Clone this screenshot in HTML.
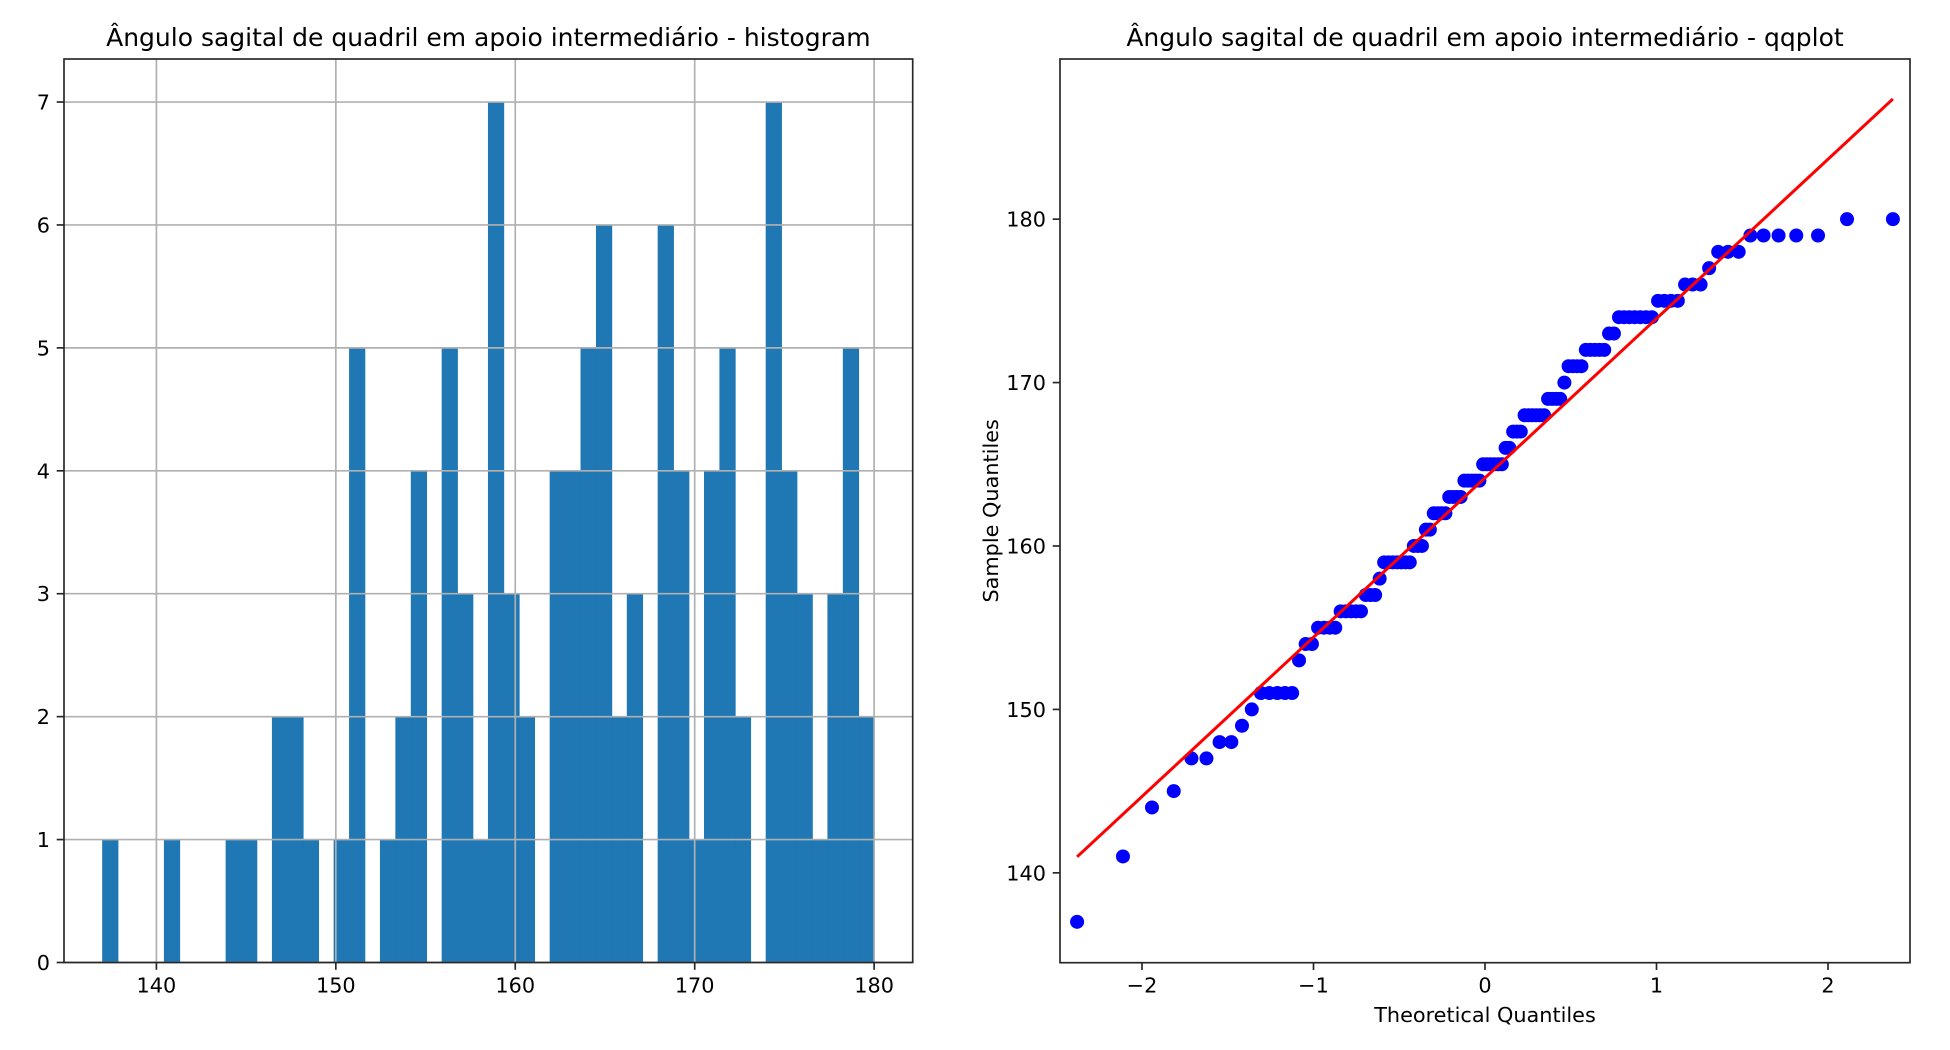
<!DOCTYPE html>
<html><head><meta charset="utf-8">
<style>
html,body{margin:0;padding:0;background:#fff;}
svg{display:block;font-family:"DejaVu Sans","Liberation Sans",sans-serif;}
</style></head>
<body>
<svg id="fig" width="1950" height="1050" viewBox="0 0 1950 1050" xmlns="http://www.w3.org/2000/svg">
<rect width="1950" height="1050" fill="#fff"/>
</svg>
<script>
// Sample values (unique) and their frequencies
const sampleValues = [137,141,144,145,147,148,149,150,151,153,154,155,156,157,158,159,160,161,162,163,164,165,166,167,168,169,170,171,172,173,174,175,176,177,178,179,180];
const sampleCounts = [1,1,1,1,2,2,1,1,5,1,2,4,5,3,1,7,3,2,4,4,5,6,2,3,6,4,1,4,5,2,7,4,3,1,3,5,2];
const histXTicks = [140,150,160,170,180];
const histYTicks = [0,1,2,3,4,5,6,7];
const qqXTicks = [-2,-1,0,1,2];
const qqYTicks = [140,150,160,170,180];
const numBins = 50;

const NS = "http://www.w3.org/2000/svg";
const svg = document.getElementById('fig');
function mk(tag, attrs, parent){
  const e = document.createElementNS(NS, tag);
  for (const k in attrs) e.setAttribute(k, attrs[k]);
  (parent||svg).appendChild(e);
  return e;
}

const data = [];
sampleValues.forEach((v,i)=>{ for(let k=0;k<sampleCounts[i];k++) data.push(v); });
data.sort((a,b)=>a-b);
const n = data.length;
const dmin = data[0], dmax = data[n-1];
const bw = (dmax-dmin)/numBins;
const binCounts = new Array(numBins).fill(0);
data.forEach(v=>{ let b=Math.floor((v-dmin)/bw); if(b>=numBins) b=numBins-1; binCounts[b]++; });

// ---------- Histogram ----------
const H = {l:64, r:912.7, t:59, b:962.5};
const hxMin = dmin-(dmax-dmin)*0.05, hxMax = dmax+(dmax-dmin)*0.05;
const hyMax = Math.max(...binCounts)*1.05;
const hx = v => H.l + (v-hxMin)/(hxMax-hxMin)*(H.r-H.l);
const hy = v => H.b - v/hyMax*(H.b-H.t);

const gH = mk('g',{});



const barsG = mk('g',{}, gH);


binCounts.forEach((c,i)=>{
  if(!c) return;
  const x0 = hx(dmin+i*bw), x1 = hx(dmin+(i+1)*bw);
  const r = mk('rect',{x:x0,y:hy(c),width:x1-x0,height:hy(0)-hy(c),fill:'#1f77b4',stroke:'#1f77b4','stroke-width':0.8}, barsG);
  
  
});
const gridG = mk('g',{}, gH);


histXTicks.forEach(t=>{ mk('line',{x1:hx(t),x2:hx(t),y1:H.t,y2:H.b,stroke:'#b0b0b0','stroke-width':1.67}, gridG); });
histYTicks.forEach(t=>{ mk('line',{x1:H.l,x2:H.r,y1:hy(t),y2:hy(t),stroke:'#b0b0b0','stroke-width':1.67}, gridG); });

mk('rect',{x:H.l,y:H.t,width:H.r-H.l,height:H.b-H.t,fill:'none',stroke:'#262626','stroke-width':1.67}, gH);
histXTicks.forEach(t=>{
  mk('line',{x1:hx(t),x2:hx(t),y1:H.b,y2:H.b+7.3,stroke:'#262626','stroke-width':1.67}, gH);
  const tx = mk('text',{x:hx(t),y:H.b+30,'font-size':20.8,'text-anchor':'middle',fill:'#000'}, gH);
  tx.textContent = t;
  
  
});
histYTicks.forEach(t=>{
  mk('line',{x1:H.l-7.3,x2:H.l,y1:hy(t),y2:hy(t),stroke:'#262626','stroke-width':1.67}, gH);
  const tx = mk('text',{x:H.l-14,y:hy(t)+7.5,'font-size':20.8,'text-anchor':'end',fill:'#000'}, gH);
  tx.textContent = t;
  
  
});
const t1 = mk('text',{x:(H.l+H.r)/2,y:46,'font-size':25,'text-anchor':'middle',fill:'#000'}, gH);
t1.textContent = 'Ângulo sagital de quadril em apoio intermediário - histogram';



// ---------- QQ plot ----------
const Q = {l:1060, r:1910, t:59, b:962.7};
const qxMin=-2.478, qxMax=2.478, qyMin=134.5, qyMax=189.8;
const qx = v => Q.l + (v-qxMin)/(qxMax-qxMin)*(Q.r-Q.l);
const qy = v => Q.b - (v-qyMin)/(qyMax-qyMin)*(Q.b-Q.t);

function ppf(p){
  const a=[-3.969683028665376e+01,2.209460984245205e+02,-2.759285104469687e+02,1.383577518672690e+02,-3.066479806614716e+01,2.506628277459239e+00];
  const b=[-5.447609879822406e+01,1.615858368580409e+02,-1.556989798598866e+02,6.680131188771972e+01,-1.328068155288572e+01];
  const c=[-7.784894002430293e-03,-3.223964580411365e-01,-2.400758277161838e+00,-2.549732539343734e+00,4.374664141464968e+00,2.938163982698783e+00];
  const d=[7.784695709041462e-03,3.224671290700398e-01,2.445134137142996e+00,3.754408661907416e+00];
  const pl=0.02425;
  if(p<pl){const q=Math.sqrt(-2*Math.log(p));return (((((c[0]*q+c[1])*q+c[2])*q+c[3])*q+c[4])*q+c[5])/((((d[0]*q+d[1])*q+d[2])*q+d[3])*q+1);}
  if(p>1-pl){const q=Math.sqrt(-2*Math.log(1-p));return -(((((c[0]*q+c[1])*q+c[2])*q+c[3])*q+c[4])*q+c[5])/((((d[0]*q+d[1])*q+d[2])*q+d[3])*q+1);}
  const q=p-0.5,r=q*q;return (((((a[0]*r+a[1])*r+a[2])*r+a[3])*r+a[4])*r+a[5])*q/(((((b[0]*r+b[1])*r+b[2])*r+b[3])*r+b[4])*r+1);
}
const theo = data.map((v,i)=>ppf((i+1)/(n+1)));
const mean = data.reduce((s,v)=>s+v,0)/n;
const sd = Math.sqrt(data.reduce((s,v)=>s+(v-mean)**2,0)/(n-1));

const gQ = mk('g',{});



const ptsG = mk('g',{}, gQ);


data.forEach((v,i)=>{
  const c = mk('circle',{cx:qx(theo[i]),cy:qy(v),r:7,fill:'#0000ff'}, ptsG);
  
  
});
const z0 = theo[0], z1 = theo[n-1];
const ln = mk('line',{x1:qx(z0),y1:qy(mean+sd*z0),x2:qx(z1),y2:qy(mean+sd*z1),stroke:'#ff0000','stroke-width':3}, gQ);



mk('rect',{x:Q.l,y:Q.t,width:Q.r-Q.l,height:Q.b-Q.t,fill:'none',stroke:'#262626','stroke-width':1.67}, gQ);
qqXTicks.forEach(t=>{
  mk('line',{x1:qx(t),x2:qx(t),y1:Q.b,y2:Q.b+7.3,stroke:'#262626','stroke-width':1.67}, gQ);
  const tx = mk('text',{x:qx(t),y:Q.b+30,'font-size':20.8,'text-anchor':'middle',fill:'#000'}, gQ);
  tx.textContent = t<0 ? '\u2212'+Math.abs(t) : String(t);
  
  
});
qqYTicks.forEach(t=>{
  mk('line',{x1:Q.l-7.3,x2:Q.l,y1:qy(t),y2:qy(t),stroke:'#262626','stroke-width':1.67}, gQ);
  const tx = mk('text',{x:Q.l-14,y:qy(t)+7.5,'font-size':20.8,'text-anchor':'end',fill:'#000'}, gQ);
  tx.textContent = t;
  
  
});
const xl = mk('text',{x:(Q.l+Q.r)/2,y:1022,'font-size':20.8,'text-anchor':'middle',fill:'#000'}, gQ);
xl.textContent = 'Theoretical Quantiles';


const yl = mk('text',{x:0,y:0,'font-size':20.8,'text-anchor':'middle',fill:'#000',transform:`translate(998,${(Q.t+Q.b)/2}) rotate(-90)`}, gQ);
yl.textContent = 'Sample Quantiles';


const t2 = mk('text',{x:(Q.l+Q.r)/2,y:46,'font-size':25,'text-anchor':'middle',fill:'#000'}, gQ);
t2.textContent = 'Ângulo sagital de quadril em apoio intermediário - qqplot';


</script>
</body></html>
